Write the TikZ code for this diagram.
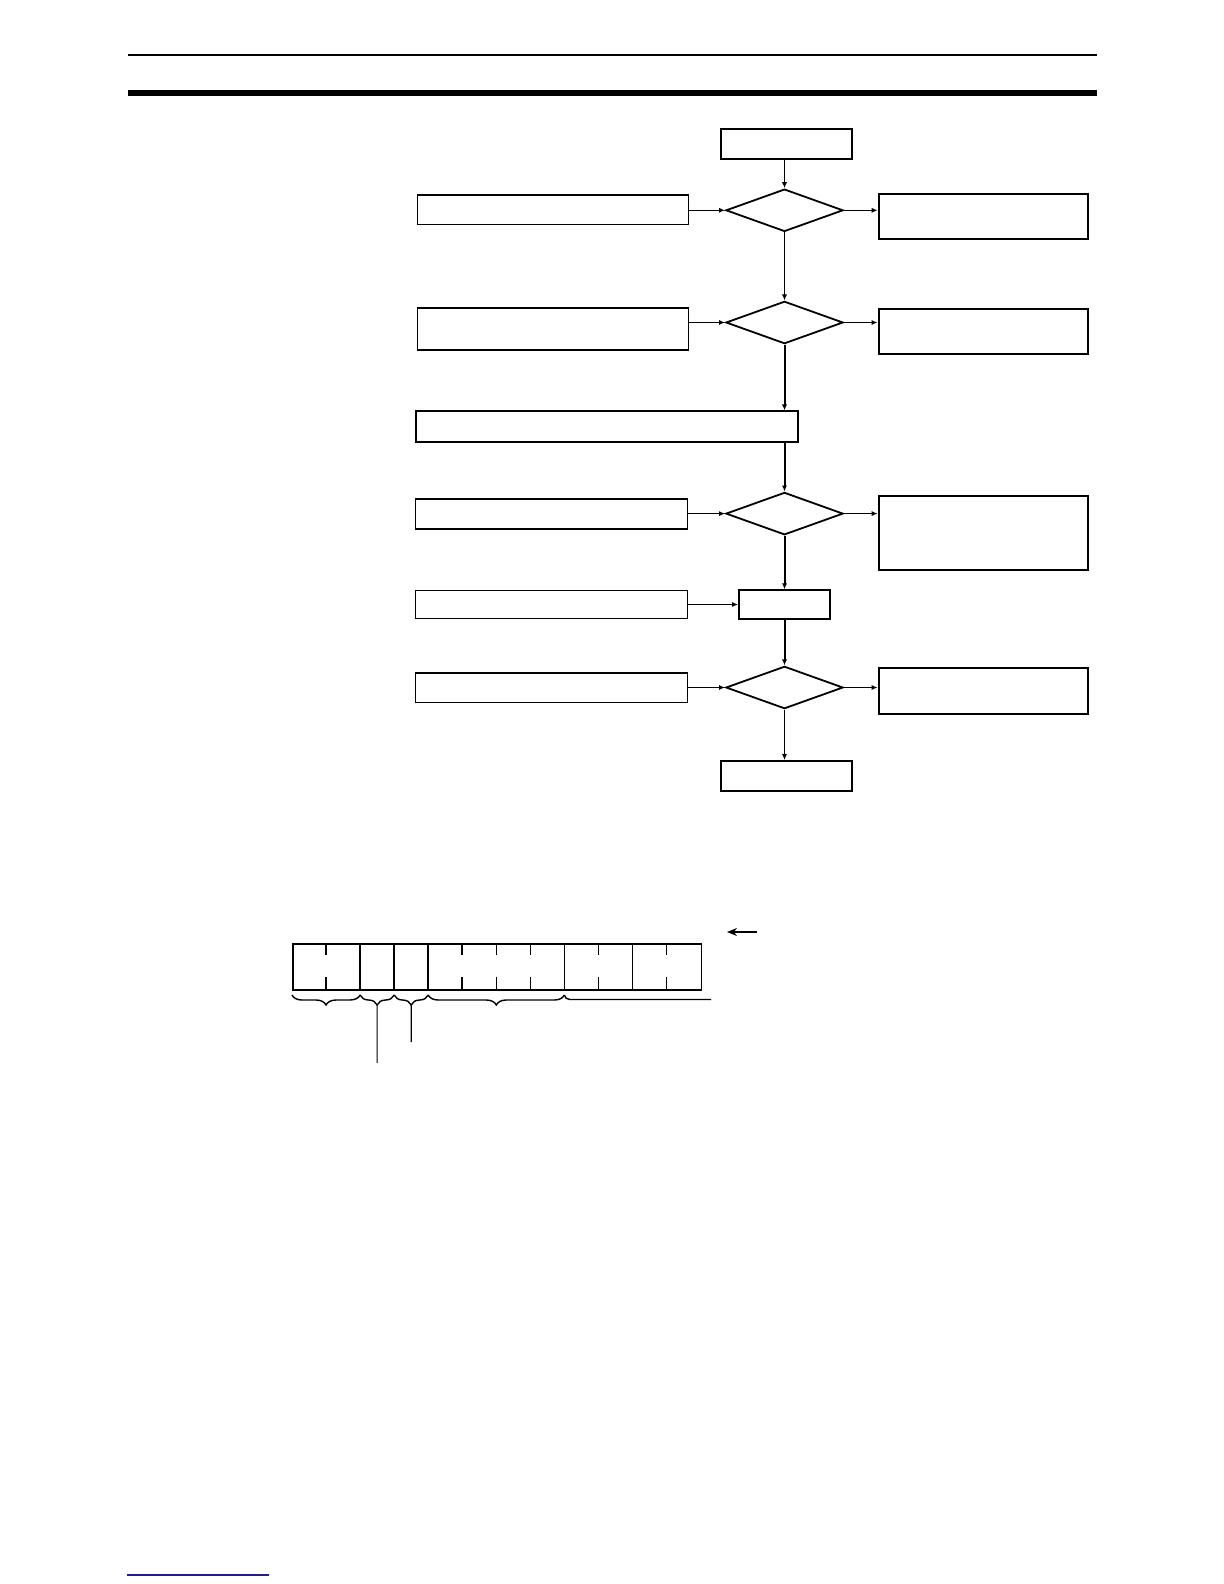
\documentclass[tikz,border=0pt]{standalone}
\usetikzlibrary{positioning}
\usetikzlibrary{calc}
\usetikzlibrary{shapes.geometric}
\usetikzlibrary{arrows.meta}
\usetikzlibrary{decorations.pathreplacing}

\definecolor{footblue}{RGB}{30,30,140}

\begin{document}
\begin{tikzpicture}[x=0.5pt,y=-0.5pt,
      termblock/.style={draw,rectangle,line width=1pt,inner sep=0pt,minimum width=65.5pt,minimum height=14.8pt},
      leftblock/.style={draw,rectangle,line width=0.7pt,inner sep=0pt,minimum width=136pt},
      rightblock/.style={draw,rectangle,line width=1pt,inner sep=0pt,minimum width=104.6pt},
      testblock/.style={draw,diamond,line width=0.9pt,inner sep=0pt,minimum width=58.6pt,minimum height=21.2pt},
      flow/.style={-{Latex[length=3pt,width=2.6pt]},line width=0.7pt},
      flowthick/.style={flow,line width=1pt},
      brace/.style={decorate,decoration={brace,mirror,amplitude=5pt},line width=0.7pt}]
      \useasboundingbox (0,0) rectangle (1224,1584);

      % Page rules
      \draw[line width=0.6pt] (128,55) -- (1097,55);
      \draw[line width=3pt]   (128,93) -- (1097,93);
      \draw[footblue,line width=0.6pt] (127,1575) -- (269,1575);

      % Blocks
      \node[termblock]                                   (start) at (786.5,144)   {};
      \node[testblock]                                   (test1) at (784.5,210.3) {};
      \node[testblock]                                   (test2) at (784.5,322.5) {};
      \node[testblock]                                   (test3) at (784.5,513.6) {};
      \node[testblock]                                   (test4) at (784.5,687.5) {};
      \node[termblock]                                   (stop)  at (786.5,775.8) {};
      \node[draw,rectangle,line width=1pt,inner sep=0pt,
            minimum width=191.1pt,minimum height=15.15pt] (setup) at (606.6,426.6) {};
      \node[draw,rectangle,line width=1pt,inner sep=0pt,
            minimum width=45.5pt,minimum height=14.15pt]  (exec)  at (784.5,604.5) {};

      \node[leftblock,minimum width=135.5pt,minimum height=14.75pt] (cond1) at (553,209.8)   {};
      \node[leftblock,minimum width=135.5pt,minimum height=21pt]    (cond2) at (553,329)     {};
      \node[leftblock,minimum height=15pt]                          (cond3) at (551.5,514)   {};
      \node[leftblock,minimum height=14.15pt]                       (cond4) at (551.5,604.5) {};
      \node[leftblock,minimum height=14.8pt]                        (cond5) at (551.5,687.8) {};

      \node[rightblock,minimum height=22.3pt]  (err1) at (983.2,216.3) {};
      \node[rightblock,minimum height=22.5pt]  (err2) at (983.2,331.5) {};
      \node[rightblock,minimum height=36.9pt]  (err3) at (983.2,533.3) {};
      \node[rightblock,minimum height=22.75pt] (err4) at (983.2,691)   {};

      % Arrows
      \draw[flow] (test1.north |- start.south) -- (test1.north);
      \draw[flow] (test1.south) -- (test2.north);
      \draw[flowthick] (test2.south) -- (test2.south |- setup.north);
      \draw[flowthick] (test3.north |- setup.south) -- (test3.north);
      \draw[flowthick] (test3.south) -- (exec.north);
      \draw[flowthick] (exec.south) -- (test4.north);
      \draw[flow] (test4.south) -- (test4.south |- stop.north);

      \foreach \n in {1,...,5}{
        \ifnum\n=4
          \draw[flow] (cond4.east) -- (exec.west);
        \else
          \pgfmathtruncatemacro{\t}{\n<4 ? \n : 4}
          \draw[flow] (test\t.west -| cond\n.east) -- (test\t.west);
        \fi
      }
      \foreach \n in {1,...,4}
        \draw[flow] (test\n.east) -- (test\n.east -| err\n.west);

      % Register
      \node[draw,rectangle,line width=0.8pt,inner sep=0pt,anchor=north west,
            minimum width=204.3pt,minimum height=23pt] (reg) at (292,943) {};
      \foreach \i in {2,3,4,8,10}
        \draw[line width=0.8pt] (292+34.05*\i,943) -- (292+34.05*\i,989);
      \foreach \i in {1,5,6,7,9,11}
        \draw[line width=0.8pt] (292+34.05*\i,943) -- (292+34.05*\i,955)
                                (292+34.05*\i,989) -- (292+34.05*\i,977);

      \draw[brace] (292,995)    -- (360.1,995);
      \draw[brace] (360.1,995)  -- (394.15,995) coordinate[midway,yshift=-5pt] (tipA);
      \draw[brace] (394.15,995) -- (428.2,995)  coordinate[midway,yshift=-5pt] (tipB);
      \draw[brace] (428.2,995)  -- (564.4,995);
      \draw[line width=0.7pt] (564.4,995) to[out=-90,in=180] (570,999.5) -- (711,999.5);

      \coordinate (endA) at (377.1,1063);
      \coordinate (endB) at (411.2,1042);
      \draw[line width=0.6pt] (tipA) -- (endA);
      \draw[line width=0.6pt] (tipB) -- (endB);

      \coordinate (dirtail) at (757,932);
      \coordinate (dirhead) at (727,932);
      \draw[-{Stealth[length=5pt,width=4pt]},line width=0.6pt] (dirtail) -- (dirhead);

    \end{tikzpicture}
\end{document}
